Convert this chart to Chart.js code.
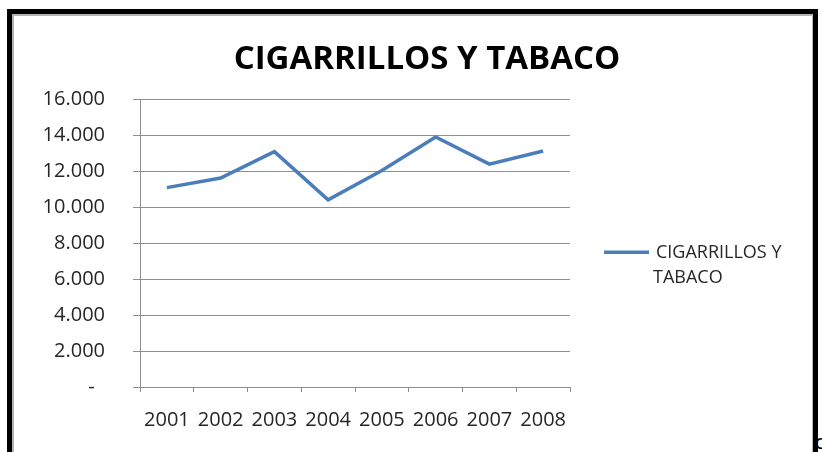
<!DOCTYPE html>
<html>
<head>
<meta charset="utf-8">
<script src="https://cdn.jsdelivr.net/npm/chart.js@4/dist/chart.umd.min.js"></script>
<style>
  html, body { margin: 0; padding: 0; background: #fff; overflow: hidden; }
  #wrap { position: relative; width: 822px; height: 452px; }
  /* black frame + thin grey chart border */
  #frame { position: absolute; left: 7px; top: 9px; width: 801px; height: 443px;
           border: 5px solid #000; border-bottom: 0; }
  #inner { position: absolute; left: 0; top: 0; right: 0; height: 436px;
           border: 2px solid #b4b4b4; border-right-width: 1px; }
  #stray { position: absolute; left: 815px; top: 428px; font: 20px 'Open Sans', sans-serif; color: #000; }
  canvas { position: absolute; left: 0; top: 0; }
</style>
</head>
<body>
<div id="wrap">
  <div id="frame"><div id="inner"></div></div>
  <span id="stray">c</span>
  <canvas id="chart" width="822" height="452"></canvas>
</div>
<script>
/* ── DATA ── */
const years  = ['2001','2002','2003','2004','2005','2006','2007','2008'];
const values = [11100, 11630, 13100, 10420, 12050, 13920, 12410, 13140];
const yTicks = [0, 2000, 4000, 6000, 8000, 10000, 12000, 14000, 16000];
const seriesName = 'CIGARRILLOS Y TABACO';
const legendLines = ['CIGARRILLOS Y', 'TABACO'];

const LINE = '#4a7ebb';
const GRID = '#8e8e8e';
const TXT  = '#262626';

function fmt(v) {
  if (v === 0) return '-  ';
  return (v / 1000).toFixed(3);
}

/* ── LEGEND (wrapped, drawn by hand in the right gutter) ── */
const wrapLegend = {
  id: 'wrapLegend',
  afterDraw(chart) {
    const { ctx, chartArea } = chart;
    const y = (chartArea.top + chartArea.bottom) / 2 + 9;
    const x0 = chartArea.right + 34;
    ctx.save();
    ctx.strokeStyle = LINE;
    ctx.lineWidth = 3.5;
    ctx.beginPath();
    ctx.moveTo(x0, y);
    ctx.lineTo(x0 + 45, y);
    ctx.stroke();
    ctx.fillStyle = TXT;
    ctx.font = '18px "Open Sans"';
    ctx.textBaseline = 'middle';
    ctx.fillText(legendLines[0], x0 + 52, y + 1);
    ctx.fillText(legendLines[1], x0 + 49, y + 26);
    ctx.restore();
  }
};

new Chart(document.getElementById('chart'), {
  type: 'line',
  data: {
    labels: years,
    datasets: [{
      label: seriesName,
      data: values,
      borderColor: LINE,
      borderWidth: 3.5,
      pointRadius: 0,
      tension: 0,
      fill: false
    }]
  },
  options: {
    responsive: false,
    animation: false,
    devicePixelRatio: 1,
    layout: { padding: { left: 32, right: 0, top: 40, bottom: 0 } },
    plugins: {
      legend: { display: false },
      tooltip: { enabled: false },
      title: {
        display: true,
        text: seriesName,
        color: '#000',
        font: { family: 'Open Sans', size: 33, weight: 'bold', lineHeight: 1.2 },
        padding: { top: 0, bottom: 20 }
      }
    },
    scales: {
      x: {
        offset: true,
        afterFit: s => { s.height = 65; },
        grid: { display: true, drawOnChartArea: false, drawTicks: true, tickLength: 5, color: GRID, offset: true },
        border: { display: true, color: GRID, width: 1 },
        ticks: { color: TXT, padding: 16, maxRotation: 0, autoSkip: false,
                 font: { family: 'Open Sans', size: 20 } }
      },
      y: {
        min: 0, max: 16000,
        afterFit: s => { s.width = 108; },
        afterBuildTicks: s => { s.ticks = yTicks.map(v => ({ value: v })); },
        grid: { color: GRID, lineWidth: 1, drawTicks: true, tickLength: 7 },
        border: { display: true, color: GRID, width: 1 },
        ticks: { color: TXT, padding: 28, callback: v => fmt(v),
                 font: { family: 'Open Sans', size: 20 } }
      },
      // empty right gutter that holds the legend
      gutter: {
        type: 'linear',
        position: 'right',
        afterFit: s => { s.width = 252; },
        grid: { display: false },
        border: { display: false },
        ticks: { display: false }
      }
    }
  },
  plugins: [wrapLegend]
});
</script>
</body>
</html>
